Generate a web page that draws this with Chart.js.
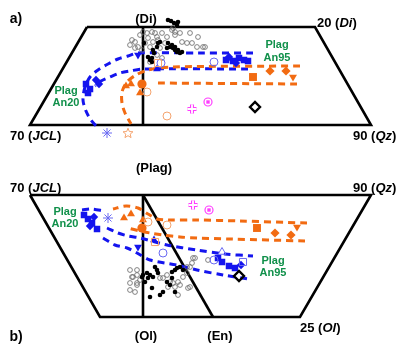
<!DOCTYPE html>
<html>
<head>
<meta charset="utf-8">
<script src="https://cdn.jsdelivr.net/npm/chart.js@4.4.0/dist/chart.umd.min.js"></script>
<style>
  html, body { margin: 0; padding: 0; background: #fff; }
  #wrap { position: relative; width: 399px; height: 352px; overflow: hidden; }
  #chart { position: absolute; left: 0; top: 0; }
  .lbl { position: absolute; font-family: "Liberation Sans", Arial, sans-serif; font-weight: bold; font-size: 13px; color: #000; white-space: nowrap; line-height: 1; }
  .lbl.green { color: #10904a; font-size: 11px; }
  .lbl.big { font-size: 14px; }
</style>
</head>
<body>
<div id="wrap"><canvas id="chart" width="399" height="352"></canvas></div>
<script>
// Diagram space: x 0..399 to the right, y 0..352 downward (two stacked projections)

// ---- frames ----
const aFrame = [[87,27],[315,27],[371,125],[30,125],[87,27]];
const aDiLine = [[143,27],[143,125]];
const bFrame = [[30,195],[371,195],[300,317],[100,317],[30,195]];
const bOlLine = [[143,195],[143,317]];
const bEnLine = [[143,195],[213,317]];

// ---- panel a: dashed envelopes ----
const aBlueOuter = [[253,53],[200,53],[138,53],[128,56],[118,59],[108,64],[98,70],[90,77],[85,87],[83,100],[86,111],[91,120],[99,129]];
const aBlueInner = [[248,69],[143,69],[130,71],[120,73],[110,77],[101,81],[95,86]];
const aOrangeOuter = [[300,66],[172,67],[148,70],[136,75],[127,82],[122,92],[122,103],[125,113],[131,124]];
const aOrangeInner = [[297,84],[157,83]];

// ---- panel a: samples ----
const aGrayOpen = [[132,40],[135,42],[140,35],[143,32],[147,33],[148,38],[152,32],[155,33],[157,37],[153,42],
  [158,40],[162,33],[145,43],[138,47],[142,50],[135,48],[130,45],[175,32],[175,35],[173,28],[180,33],[190,33],
  [192,43],[197,47],[205,47],[187,43],[182,42],[165,43],[160,48],[167,37],[172,30],[150,47],[157,55],[162,58],
  [150,62],[198,37],[203,47]];
const aBlackDots = [[150,60],[152,58],[153,50],[157,47],[158,43],[160,42],[154,53],[152,62],[148,57],[168,43],
  [170,47],[172,45],[173,48],[175,50],[177,52],[178,50],[180,53],[182,52],[175,47],[167,48],[144,43],
  [168,20],[171,21],[174,23],[177,25],[178,22]];
const aBlueSquares = [[86,84],[90,89],[88,93],[226,60],[233,61],[239,58],[244,60],[248,61]];
const aBlueDiamonds = [[96,80],[99,84],[229,57],[236,63]];
const aBlueTriDown = [[138,55]];
const aBlueTriUp = [[157,69]];
const aBlueStar = [[107,133]];
const aBlueOpenCircle = [[161,63],[214,62]];
const aOrangeCircle = [[142,84]];
const aOrangeTri = [[126,86],[131,84],[140,93]];
const aOrangeOpenCircle = [[147,92],[167,116]];
const aOrangeOpenStar = [[128,133]];
const aOrangeOpenRect = [[158,63]];
const aOrangeSquare = [[253,77]];
const aOrangeDiamond = [[270,71],[286,71]];
const aOrangeTriDown = [[293,77]];
const aMagentaPlus = [[192,109]];
const aMagentaRing = [[208,102]];
const aBlackDiamond = [[255,107]];

// ---- panel b: dashed envelopes ----
const bBlueTop = [[82,210],[92,209],[104,211]];
const bBlueUpper = [[107,228],[118,233],[128,236],[140,238],[167,245],[197,250],[225,254],[253,256]];
const bBlueLower = [[103,238],[115,245],[127,248],[137,253],[150,260],[177,265],[197,270],[223,275],[248,279]];
const bOrangeUpper = [[307,223],[240,221],[197,220],[168,220],[157,219],[148,214],[138,208],[126,206],[113,209]];
const bOrangeLower = [[305,241],[230,239],[197,238],[180,237],[163,235],[150,233],[140,231],[128,228]];

// ---- panel b: samples ----
const bGrayOpen = [[132,277],[137,275],[140,280],[163,278],[167,275],[170,282],[173,283],[178,282],[180,285],
  [183,277],[190,267],[188,288],[135,292],[137,285],[130,283],[160,278],[168,287],[175,287],[192,263],[195,258],
  [187,273],[178,295],[130,270],[133,277],[137,283],[130,290],[137,270],[193,258],[190,287],[187,267],[208,260]];
const bBlackDots = [[143,275],[147,273],[150,275],[153,277],[148,278],[155,267],[157,270],[158,273],[152,288],
  [160,295],[163,292],[170,285],[172,272],[175,270],[177,268],[180,267],[183,270],[172,278],[167,282],[175,292],
  [142,277],[145,282],[150,297]];
const bBlueSquares = [[84,215],[88,219],[92,223],[97,229],[222,262],[229,266],[235,268],[218,258]];
const bBlueDiamonds = [[90,226],[94,217],[241,265]];
const bBlueStar = [[108,218]];
const bBlueTriDown = [[138,247]];
const bBlueTriUp = [[154,240]];
const bBlueOpenCircle = [[163,253],[214,260]];
const bBlueOpenTri = [[222,252]];
const bBlueOpenRect = [[243,262]];
const bOrangeTri = [[124,218],[131,214],[143,220]];
const bOrangeCircle = [[142,228]];
const bOrangeOpenCircle = [[148,222],[167,225]];
const bOrangeOpenRect = [[155,242]];
const bOrangeSquare = [[257,228]];
const bOrangeDiamond = [[275,233],[291,235]];
const bOrangeTriDown = [[297,227]];
const bMagentaPlus = [[193,205]];
const bMagentaRing = [[209,210]];
const bBlackDiamond = [[239,276]];

// ---- labels: [html, x, y, anchor, class] ----
const labels = [
  ['a)', 16, 18, 'c', 'big'],
  ['(Di)', 146, 18, 'c', ''],
  ['20 (<i>Di</i>)', 317, 22, 'l', ''],
  ['70 (<i>JCL</i>)', 10, 135, 'l', ''],
  ['90 (<i>Qz</i>)', 353, 135, 'l', ''],
  ['(Plag)', 154, 167, 'c', ''],
  ['Plag', 66, 90, 'c', 'green'],
  ['An20', 66, 102, 'c', 'green'],
  ['Plag', 277, 44, 'c', 'green'],
  ['An95', 277, 57, 'c', 'green'],
  ['70 (<i>JCL</i>)', 10, 187, 'l', ''],
  ['90 (<i>Qz</i>)', 353, 187, 'l', ''],
  ['Plag', 65, 211, 'c', 'green'],
  ['An20', 65, 223, 'c', 'green'],
  ['Plag', 273, 260, 'c', 'green'],
  ['An95', 273, 272, 'c', 'green'],
  ['(Ol)', 146, 335, 'c', ''],
  ['(En)', 220, 335, 'c', ''],
  ['25 (<i>Ol</i>)', 300, 327, 'l', ''],
  ['b)', 16, 336, 'c', 'big']
];

const BLUE = '#1414ee';
const LIGHT_BLUE = '#6a6af2';
const ORANGE = '#f26b12';
const LIGHT_ORANGE = '#f4a36e';
const MAGENTA = '#ff3dff';

function pts(arr) {
    return arr.map(p => ({ x: p[0], y: p[1] }));
}

function frame(arr) {
    return { data: pts(arr), showLine: true, borderColor: '#000', borderWidth: 2.6,
        pointRadius: 0, tension: 0, order: 2 };
}

function curve(arr, color) {
    return { data: pts(arr), showLine: true, borderColor: color, borderWidth: 3,
        borderDash: [7, 5], pointRadius: 0, tension: 0.3, order: 1 };
}

function marks(arr, style, r, fill, stroke, width, extra) {
    return Object.assign({ data: pts(arr), showLine: false, pointStyle: style, pointRadius: r,
        backgroundColor: fill, borderColor: stroke, borderWidth: width, order: 0 }, extra || {});
}

// outline 5-point star used for the open star sample
function starImage(color) {
    const c = document.createElement('canvas');
    c.width = 12; c.height = 12;
    const g = c.getContext('2d');
    g.beginPath();
    for (let i = 0; i < 10; i++) {
        const r = i % 2 === 0 ? 5.2 : 2.3;
        const a = -Math.PI / 2 + i * Math.PI / 5;
        g.lineTo(6 + r * Math.cos(a), 6.4 + r * Math.sin(a));
    }
    g.closePath();
    g.strokeStyle = color;
    g.lineWidth = 1;
    g.stroke();
    return c;
}

const datasets = [
    frame(aFrame), frame(aDiLine), frame(bFrame), frame(bOlLine), frame(bEnLine),

    curve(aBlueOuter, BLUE), curve(aBlueInner, BLUE),
    curve(aOrangeOuter, ORANGE), curve(aOrangeInner, ORANGE),
    curve(bBlueTop, BLUE), curve(bBlueUpper, BLUE), curve(bBlueLower, BLUE),
    curve(bOrangeUpper, ORANGE), curve(bOrangeLower, ORANGE),

    // gray and black sample clouds
    marks(aGrayOpen, 'circle', 2.4, 'rgba(255,255,255,0)', '#666', 0.8),
    marks(bGrayOpen, 'circle', 2.4, 'rgba(255,255,255,0)', '#666', 0.8),
    marks(aBlackDots, 'circle', 2.3, '#000', '#000', 0),
    marks(bBlackDots, 'circle', 2.3, '#000', '#000', 0),

    // blue
    marks(aBlueSquares, 'rect', 4.6, BLUE, BLUE, 0),
    marks(aBlueDiamonds, 'rectRot', 4.2, BLUE, BLUE, 0),
    marks(aBlueTriDown, 'triangle', 4.5, BLUE, BLUE, 0, { rotation: 180 }),
    marks(aBlueTriUp, 'triangle', 4.5, BLUE, BLUE, 0),
    marks(aBlueStar, 'star', 5, 'rgba(0,0,0,0)', LIGHT_BLUE, 1),
    marks(aBlueOpenCircle, 'circle', 4, 'rgba(0,0,0,0)', LIGHT_BLUE, 1),
    marks(bBlueSquares, 'rect', 4.6, BLUE, BLUE, 0),
    marks(bBlueDiamonds, 'rectRot', 4.2, BLUE, BLUE, 0),
    marks(bBlueStar, 'star', 5, 'rgba(0,0,0,0)', LIGHT_BLUE, 1),
    marks(bBlueTriDown, 'triangle', 4.5, BLUE, BLUE, 0, { rotation: 180 }),
    marks(bBlueTriUp, 'triangle', 4.5, BLUE, BLUE, 0),
    marks(bBlueOpenCircle, 'circle', 4, 'rgba(0,0,0,0)', LIGHT_BLUE, 1),
    marks(bBlueOpenTri, 'triangle', 4.5, 'rgba(0,0,0,0)', LIGHT_BLUE, 1),
    marks(bBlueOpenRect, 'rect', 5, 'rgba(0,0,0,0)', LIGHT_BLUE, 1),

    // orange
    marks(aOrangeCircle, 'circle', 4.6, ORANGE, ORANGE, 0),
    marks(aOrangeTri, 'triangle', 4.6, ORANGE, ORANGE, 0),
    marks(aOrangeOpenCircle, 'circle', 4, 'rgba(0,0,0,0)', LIGHT_ORANGE, 1),
    marks(aOrangeOpenStar, starImage(LIGHT_ORANGE), 5, 'rgba(0,0,0,0)', LIGHT_ORANGE, 1),
    marks(aOrangeOpenRect, 'rect', 5, 'rgba(0,0,0,0)', LIGHT_ORANGE, 1),
    marks(aOrangeSquare, 'rect', 5.6, ORANGE, ORANGE, 0),
    marks(aOrangeDiamond, 'rectRot', 4.6, ORANGE, ORANGE, 0),
    marks(aOrangeTriDown, 'triangle', 4.6, ORANGE, ORANGE, 0, { rotation: 180 }),
    marks(bOrangeTri, 'triangle', 4.6, ORANGE, ORANGE, 0),
    marks(bOrangeCircle, 'circle', 4.6, ORANGE, ORANGE, 0),
    marks(bOrangeOpenCircle, 'circle', 4, 'rgba(0,0,0,0)', LIGHT_ORANGE, 1),
    marks(bOrangeOpenRect, 'rect', 5, 'rgba(0,0,0,0)', LIGHT_ORANGE, 1),
    marks(bOrangeSquare, 'rect', 5.6, ORANGE, ORANGE, 0),
    marks(bOrangeDiamond, 'rectRot', 4.6, ORANGE, ORANGE, 0),
    marks(bOrangeTriDown, 'triangle', 4.6, ORANGE, ORANGE, 0, { rotation: 180 }),

    // magenta
    marks(aMagentaPlus, 'cross', 4.5, MAGENTA, MAGENTA, 4),
    marks(aMagentaPlus, 'cross', 4.5, '#fff', '#fff', 1.8),
    marks(bMagentaPlus, 'cross', 4.5, MAGENTA, MAGENTA, 4),
    marks(bMagentaPlus, 'cross', 4.5, '#fff', '#fff', 1.8),
    marks(aMagentaRing, 'circle', 4, 'rgba(0,0,0,0)', MAGENTA, 1.2),
    marks(aMagentaRing, 'rect', 2.4, MAGENTA, MAGENTA, 0),
    marks(bMagentaRing, 'circle', 4, 'rgba(0,0,0,0)', MAGENTA, 1.2),
    marks(bMagentaRing, 'rect', 2.4, MAGENTA, MAGENTA, 0),

    // black open diamond
    marks(aBlackDiamond, 'rectRot', 5, 'rgba(0,0,0,0)', '#000', 2.4),
    marks(bBlackDiamond, 'rectRot', 5, 'rgba(0,0,0,0)', '#000', 2.4)
];

// later entries in the same order group should sit on top
datasets.forEach((d, i) => { d.order = d.order * 1000 - i; d.clip = false; });

const chart = new Chart(document.getElementById('chart'), {
    type: 'scatter',
    data: { datasets: datasets },
    options: {
        responsive: false,
        animation: false,
        events: [],
        layout: { padding: 0, autoPadding: false },
        scales: {
            x: { type: 'linear', min: 0, max: 399, display: false },
            y: { type: 'linear', min: 0, max: 352, reverse: true, display: false }
        },
        plugins: {
            legend: { display: false },
            tooltip: { enabled: false }
        }
    }
});

// Place text labels through the chart's scales
const wrap = document.getElementById('wrap');
labels.forEach(([html, x, y, anchor, cls]) => {
    const el = document.createElement('div');
    el.className = 'lbl ' + cls;
    el.innerHTML = html;
    el.style.left = chart.scales.x.getPixelForValue(x) + 'px';
    el.style.top = chart.scales.y.getPixelForValue(y) + 'px';
    el.style.transform = anchor === 'c' ? 'translate(-50%, -50%)' : 'translate(0, -50%)';
    wrap.appendChild(el);
});
</script>
</body>
</html>
